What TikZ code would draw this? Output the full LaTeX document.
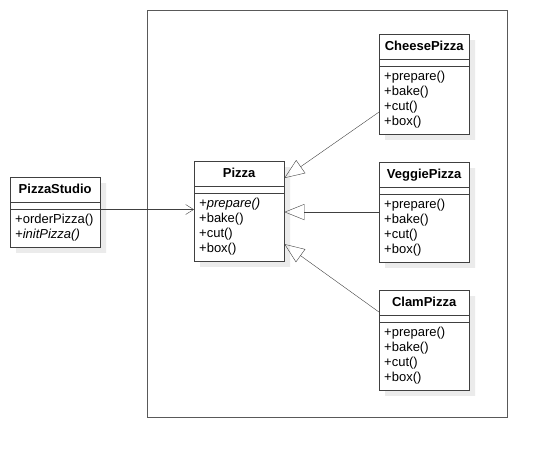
\documentclass[tikz,border=0pt]{standalone}
\usepackage{fontspec}
\setmainfont{Liberation Sans}
\usetikzlibrary{shapes.multipart,arrows.meta,shadows}

\newcommand{\titlestrut}{\rule[-5pt]{0pt}{17.5pt}}

\tikzset{
  umlclass/.style={rectangle split, rectangle split parts=3, draw=black!75, fill=white,
    text width=80pt, inner xsep=5pt, inner ysep=3.5pt,
    rectangle split empty part height=3pt, anchor=north west,
    font=\fontsize{13}{15}\selectfont,
    drop shadow={shadow xshift=6pt, shadow yshift=-6pt, fill=black!8, opacity=1}},
  assoc/.style={draw=black!75, -{Straight Barb[length=8pt,width=10pt]}},
  inherit/.style={draw=black!75, -{Triangle[open,length=20pt,width=16pt]}},
}

\begin{document}
\begin{tikzpicture}[x=1pt,y=-1pt]
    \useasboundingbox (0,0) rectangle (547,458);
    % package frame
    \draw[draw=black!65] (147,10) rectangle (507,417);

    \node(studio) [umlclass] at (10,177) {\hfil\titlestrut\textbf{PizzaStudio}\hfil
        \nodepart{two}
        \nodepart{three}\raggedright\strut+orderPizza()\par\textit{+initPizza()}\strut};
    \node(pizza) [umlclass] at (194,161) {\hfil\titlestrut\textbf{Pizza}\hfil
        \nodepart{two}
        \nodepart{three}\raggedright\strut\textit{+prepare()}\par+bake()\par+cut()\par+box()\strut};
    \node(cheese) [umlclass] at (379,34) {\hfil\titlestrut\textbf{CheesePizza}\hfil
        \nodepart{two}
        \nodepart{three}\raggedright\strut+prepare()\par+bake()\par+cut()\par+box()\strut};
    \node(veggie) [umlclass] at (379,162) {\hfil\titlestrut\textbf{VeggiePizza}\hfil
        \nodepart{two}
        \nodepart{three}\raggedright\strut+prepare()\par+bake()\par+cut()\par+box()\strut};
    \node(clam) [umlclass] at (379,290) {\hfil\titlestrut\textbf{ClamPizza}\hfil
        \nodepart{two}
        \nodepart{three}\raggedright\strut+prepare()\par+bake()\par+cut()\par+box()\strut};

    % connectors
    \draw[assoc] (studio.two split east) -- (pizza.west |- studio.two split east);
    \draw[inherit] ([yshift=-28pt]cheese.west) -- ([yshift=33pt]pizza.east);
    \draw[inherit] (veggie.west) -- (pizza.east |- veggie.west);
    \draw[inherit] ([yshift=28pt]clam.west) -- ([yshift=-33pt]pizza.east);
\end{tikzpicture}
\end{document}
